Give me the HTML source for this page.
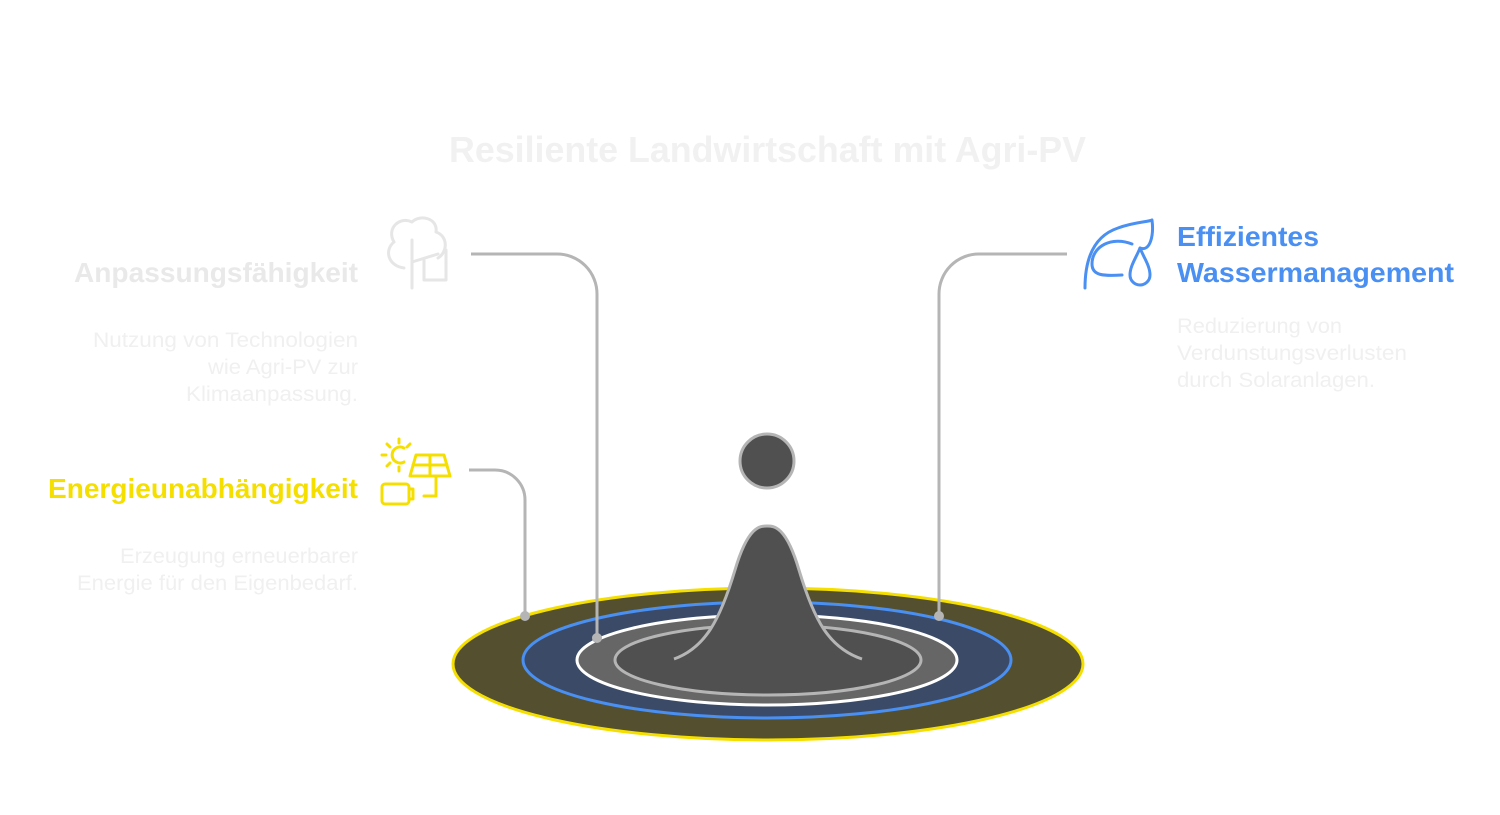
<!DOCTYPE html>
<html><head><meta charset="utf-8"><style>
html,body{margin:0;padding:0;background:#fff;}
svg{display:block;}
text{font-family:"Liberation Sans",sans-serif;}
</style></head><body>
<svg width="1500" height="815" viewBox="0 0 1500 815" xmlns="http://www.w3.org/2000/svg">
<text x="449" y="162" font-size="36" font-weight="bold" fill="#f1f1f1" textLength="637" lengthAdjust="spacingAndGlyphs">Resiliente Landwirtschaft mit Agri-PV</text>

<text x="358" y="282" text-anchor="end" font-size="28" font-weight="bold" fill="#e9e9e9" textLength="284" lengthAdjust="spacingAndGlyphs">Anpassungsfähigkeit</text>
<g font-size="21" fill="#f0f0f0" text-anchor="end" lengthAdjust="spacingAndGlyphs">
<text x="358" y="347" textLength="265" lengthAdjust="spacingAndGlyphs">Nutzung von Technologien</text>
<text x="358" y="374" textLength="150" lengthAdjust="spacingAndGlyphs">wie Agri-PV zur</text>
<text x="358" y="401" textLength="172" lengthAdjust="spacingAndGlyphs">Klimaanpassung.</text>
</g>
<text x="358" y="498" text-anchor="end" font-size="28" font-weight="bold" fill="#f5df00" textLength="310" lengthAdjust="spacingAndGlyphs">Energieunabhängigkeit</text>
<g font-size="21" fill="#f0f0f0" text-anchor="end">
<text x="358" y="563" textLength="238" lengthAdjust="spacingAndGlyphs">Erzeugung erneuerbarer</text>
<text x="358" y="590" textLength="281" lengthAdjust="spacingAndGlyphs">Energie für den Eigenbedarf.</text>
</g>
<g font-size="28" font-weight="bold" fill="#4a8ff2">
<text x="1177" y="246" textLength="142" lengthAdjust="spacingAndGlyphs">Effizientes</text>
<text x="1177" y="282" textLength="277" lengthAdjust="spacingAndGlyphs">Wassermanagement</text>
</g>
<g font-size="21" fill="#f0f0f0">
<text x="1177" y="333" textLength="165" lengthAdjust="spacingAndGlyphs">Reduzierung von</text>
<text x="1177" y="360" textLength="230" lengthAdjust="spacingAndGlyphs">Verdunstungsverlusten</text>
<text x="1177" y="387" textLength="198" lengthAdjust="spacingAndGlyphs">durch Solaranlagen.</text>
</g>

<!-- tree icon -->
<g fill="none" stroke="#e6e6e6" stroke-width="3" stroke-linecap="round" stroke-linejoin="round">
<path d="M412 288 V240 M412 262 L438 254 M424 260 V280 H446 V250 M404 268 C388 266 384 250 394 242 C386 228 400 216 412 222 C420 214 438 218 436 232 C448 236 448 252 438 258"/>
</g>
<!-- solar icon -->
<g fill="none" stroke="#f5df00" stroke-width="3" stroke-linecap="round" stroke-linejoin="round">
<path d="M404 448 A8 8 0 1 0 404 462"/>
<path d="M399 439 V443 M387 444 L390 447 M382 455 H386 M387 466 L390 463 M399 467 V471 M410 444 L407 447"/>
<path d="M416 455 H444 L450 476 H410 Z M430 455 V476 M413 465 H447"/>
<path d="M436 476 V496 H424"/>
<rect x="382" y="484" width="27" height="20" rx="3"/>
<path d="M409 489 H413 V499 H409"/>
</g>
<!-- leaf/drop icon -->
<g fill="none" stroke="#4a8ff2" stroke-width="3" stroke-linecap="round" stroke-linejoin="round">
<path d="M1085 288 C1085 258 1094 236 1118 228 C1134 222 1148 222 1152 220 C1154 236 1150 252 1140 248"/>
<path d="M1132 244 C1112 236 1092 246 1092 264 C1092 276 1104 276 1122 275"/>
<path d="M1140 248 C1136 258 1130 266 1130 275 A10 10 0 0 0 1150 275 C1150 266 1144 258 1140 248 Z"/>
</g>

<!-- ripples -->
<ellipse cx="768" cy="664" rx="315" ry="76" fill="#544f2e" stroke="#f5df00" stroke-width="3"/>
<ellipse cx="767" cy="660" rx="244" ry="58" fill="#3b4b67" stroke="#4a8ff2" stroke-width="3"/>
<ellipse cx="767" cy="660" rx="190" ry="45" fill="#666" stroke="#fff" stroke-width="3"/>
<ellipse cx="768" cy="660" rx="153" ry="35" fill="#505050" stroke="#b5b5b5" stroke-width="3"/>
<path d="M674 659 C705 648 720 620 735 570 C748 526 760 526 767 526 C774 526 786 526 799 570 C814 620 829 648 862 659 L800 690 L730 690 Z" fill="#505050"/>
<path d="M674 659 C705 648 720 620 735 570 C748 526 760 526 767 526 C774 526 786 526 799 570 C814 620 829 648 862 659" fill="none" stroke="#b5b5b5" stroke-width="3"/>
<ellipse cx="767" cy="461" rx="27" ry="27" fill="#505050" stroke="#b5b5b5" stroke-width="3"/>

<!-- connectors -->
<g fill="none" stroke="#b5b5b5" stroke-width="3">
<path d="M471 254 H557 A40 40 0 0 1 597 294 V638"/>
<path d="M469 470 H495 A30 30 0 0 1 525 500 V616"/>
<path d="M1067 254 H979 A40 40 0 0 0 939 294 V616"/>
</g>
<g fill="#b5b5b5">
<circle cx="597" cy="638" r="5"/>
<circle cx="525" cy="616" r="5"/>
<circle cx="939" cy="616" r="5"/>
</g>
</svg>
</body></html>
